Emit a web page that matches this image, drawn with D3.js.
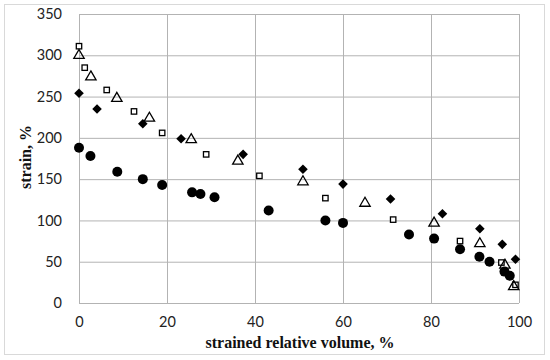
<!DOCTYPE html>
<html lang="en">
<head>
    <meta charset="UTF-8">
    <title>Strain</title>
    <script src="https://cdn.jsdelivr.net/npm/d3@7/dist/d3.min.js"></script>
    <style>
        body { margin: 0; background: #fff; }
    </style>
</head>
<body>
<svg width="550" height="360" id="main"></svg>
<script>
    // series: x = strained relative volume (%), y = strain (%)
    let circleX = [0, 2.6, 8.7, 14.5, 18.9, 25.7, 27.6, 30.8, 43.1, 56, 60, 75, 80.7, 86.6, 91, 93.3, 96.7, 97.9];
    let circleY = [188, 178, 159, 150, 143, 134, 132, 128, 112, 100, 97, 83, 78, 65, 56, 50, 38, 33];

    let diamondX = [0, 4.1, 14.5, 23.2, 37.3, 50.9, 60, 70.8, 82.6, 91.1, 96.2, 99.2];
    let diamondY = [254, 235, 217, 199, 180, 162, 144, 126, 108, 90, 71, 53];

    let squareX = [0, 1.3, 6.3, 12.5, 18.9, 28.9, 41, 56, 71.4, 86.6, 96, 99.2];
    let squareY = [311, 285, 258, 232, 206, 180, 154, 127, 101, 75, 49, 22];

    let triangleX = [0, 2.7, 8.6, 16, 25.5, 36.1, 50.9, 65, 80.7, 91.1, 96.8, 98.8];
    let triangleY = [301, 275, 249, 225, 199, 173, 148, 122, 98, 73, 47, 21];

    let xTicks = [0, 20, 40, 60, 80, 100];
    let yTicks = [0, 50, 100, 150, 200, 250, 300, 350];

    let svg = d3.select('#main');
    let width = +svg.attr('width');
    let height = +svg.attr('height');
    let margin = {top: 14, right: 31, bottom: 57, left: 79};
    const innerWidth = width - margin.left - margin.right;
    const innerHeight = height - margin.top - margin.bottom;

    // outer frame
    svg.append('rect').attr('x', 4.5).attr('y', 4.5).attr('width', 540).attr('height', 350)
        .attr('fill', 'none').attr('stroke', '#d9d9d9').attr('stroke-width', 1);

    let xScale = d3.scaleLinear().domain([0, 100]).range([0, innerWidth]);
    let yScale = d3.scaleLinear().domain([0, 350]).range([innerHeight, 0]);

    let g = svg.append('g').attr('transform', `translate(${margin.left}, ${margin.top})`);

    // grid + tick labels
    let xAxis = d3.axisBottom(xScale).tickValues(xTicks).tickSize(-innerHeight).tickPadding(14);
    let yAxis = d3.axisLeft(yScale).tickValues(yTicks).tickSize(-innerWidth).tickPadding(17);
    g.append('g').attr('class', 'axis').attr('transform', `translate(0, ${innerHeight})`).call(xAxis);
    g.append('g').attr('class', 'axis').call(yAxis);
    g.selectAll('.axis .domain').remove();
    g.selectAll('.axis line').attr('stroke', '#b3b3b3').attr('stroke-width', 1);
    g.selectAll('.axis text').attr('font-family', 'Lato, "Open Sans", sans-serif')
        .attr('font-size', '14.5px').attr('fill', '#222');

    function pts(xs, ys) {
        return xs.map((x, i) => ({x: x, y: ys[i]}));
    }

    // circles
    g.selectAll('.circ').data(pts(circleX, circleY)).join('circle')
        .attr('cx', d => xScale(d.x)).attr('cy', d => yScale(d.y)).attr('r', 5)
        .attr('fill', '#000');

    // diamonds
    g.selectAll('.dia').data(pts(diamondX, diamondY)).join('path')
        .attr('d', 'M0,-4.8 L4.8,0 L0,4.8 L-4.8,0 Z')
        .attr('transform', d => `translate(${xScale(d.x)}, ${yScale(d.y)})`)
        .attr('fill', '#000');

    // open squares
    g.selectAll('.sq').data(pts(squareX, squareY)).join('rect')
        .attr('x', d => xScale(d.x) - 2.7).attr('y', d => yScale(d.y) - 2.7)
        .attr('width', 5.4).attr('height', 5.4)
        .attr('fill', '#fff').attr('stroke', '#000').attr('stroke-width', 1.3);

    // open triangles
    g.selectAll('.tri').data(pts(triangleX, triangleY)).join('path')
        .attr('d', 'M0,-5 L5.2,4 L-5.2,4 Z')
        .attr('transform', d => `translate(${xScale(d.x)}, ${yScale(d.y)})`)
        .attr('fill', 'none').attr('stroke', '#000').attr('stroke-width', 1.3);

    // axis titles
    svg.append('text').text('strained relative volume, %')
        .attr('x', 300).attr('y', 348)
        .attr('text-anchor', 'middle')
        .attr('font-family', '"Liberation Serif", serif').attr('font-weight', 'bold')
        .attr('font-size', '16px').attr('fill', '#111');

    svg.append('text').text('strain, %')
        .attr('transform', 'translate(31, 157) rotate(-90)')
        .attr('text-anchor', 'middle')
        .attr('font-family', '"Liberation Serif", serif').attr('font-weight', 'bold')
        .attr('font-size', '16px').attr('fill', '#111');
</script>
</body>
</html>
